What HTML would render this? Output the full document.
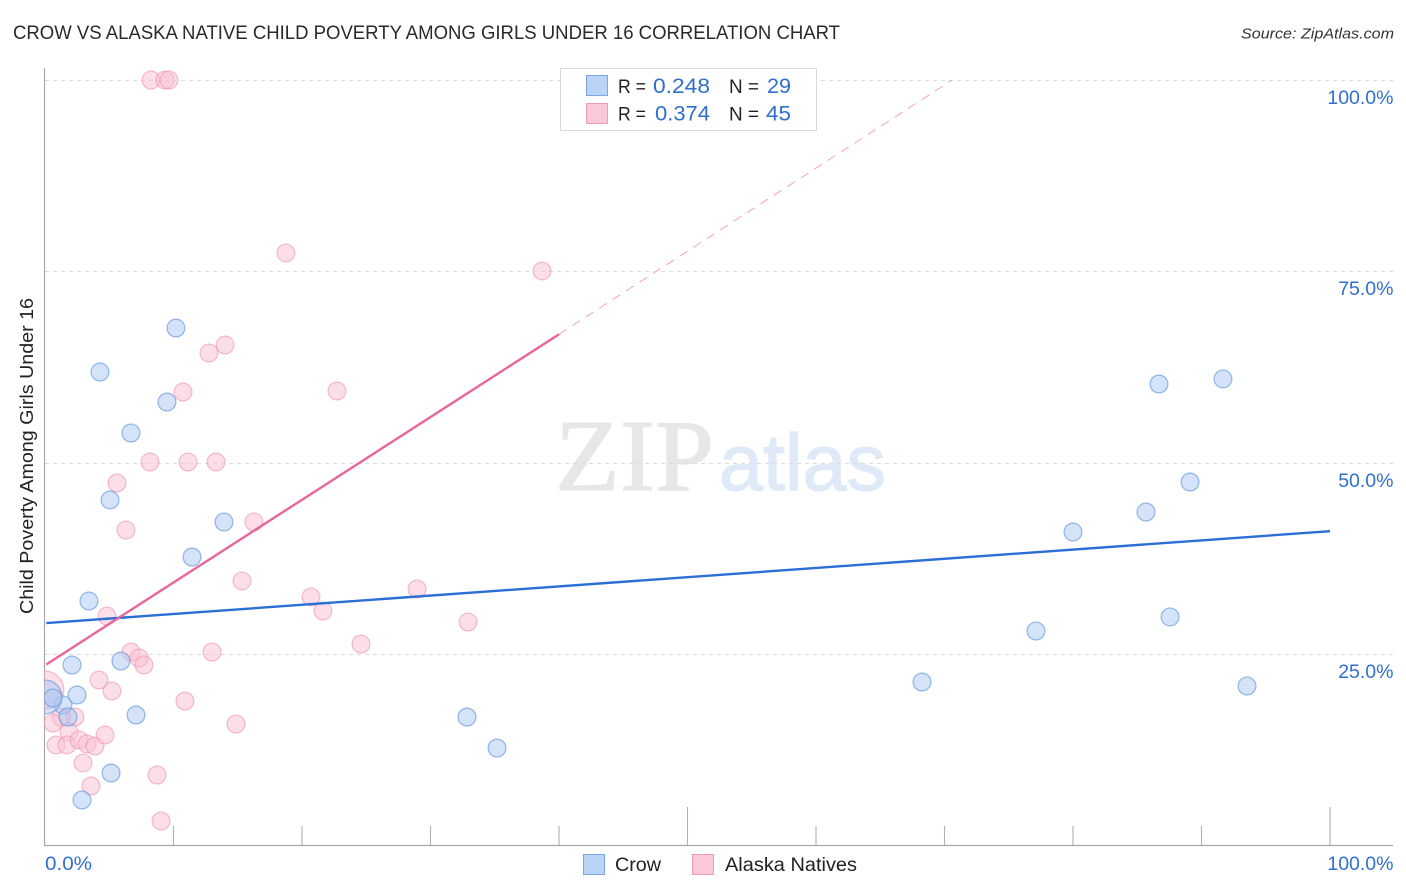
<!DOCTYPE html>
<html lang="en">
<head>
<meta charset="utf-8">
<title>Crow vs Alaska Native Child Poverty Among Girls Under 16 Correlation Chart</title>
<style>
html,body{margin:0;padding:0;background:#fff;}
svg{display:block;font-family:"Liberation Sans",sans-serif;}
</style>
</head>
<body>
<svg id="chart" width="1406" height="892" viewBox="0 0 1406 892" xmlns="http://www.w3.org/2000/svg">
  <defs>
    <clipPath id="plot-clip"><rect x="44.5" y="60" width="1349" height="785"/></clipPath>
  </defs>
  <rect width="1406" height="892" fill="#ffffff"/>
  <text x="13" y="39" font-size="19.5" fill="#2a2a2a" textLength="827" lengthAdjust="spacingAndGlyphs">CROW VS ALASKA NATIVE CHILD POVERTY AMONG GIRLS UNDER 16 CORRELATION CHART</text>
  <text x="1394" y="38.500" font-size="15" font-style="italic" fill="#333" text-anchor="end" textLength="153" lengthAdjust="spacingAndGlyphs">Source: ZipAtlas.com</text>
  <g>
    <text x="555" y="490" font-family="'Liberation Serif',serif" font-size="102" fill="#e7e7e7" stroke="#e7e7e7" stroke-width="1.2" textLength="159" lengthAdjust="spacingAndGlyphs">ZIP</text>
    <text x="719" y="490" font-size="80" fill="#e0e9f8" stroke="#e0e9f8" stroke-width="1.2" textLength="167" lengthAdjust="spacingAndGlyphs">atlas</text>
  </g>
  <g id="grid"></g>
  <g id="axes"></g>
  <g id="points" clip-path="url(#plot-clip)"></g>
  <g id="trends"></g>
  <text transform="translate(33,456) rotate(-90)" font-size="18.500" fill="#222" text-anchor="middle" textLength="316" lengthAdjust="spacingAndGlyphs">Child Poverty Among Girls Under 16</text>
  <g>
    <rect x="560.500" y="68.500" width="256" height="62" fill="#fff" stroke="#d9d9d9"/>
    <rect x="586.500" y="75.500" width="21" height="20" fill="#b9d4f7" stroke="#7aa7e4"/>
    <rect x="586.500" y="103.500" width="21" height="20" fill="#fbc8d9" stroke="#f09ab8"/>
    <text x="618" y="93" font-size="19" fill="#222" textLength="28" lengthAdjust="spacingAndGlyphs">R =</text>
    <text x="653" y="93" font-size="21" fill="#2f6fce" textLength="57" lengthAdjust="spacingAndGlyphs">0.248</text>
    <text x="729" y="93" font-size="19" fill="#222" textLength="30" lengthAdjust="spacingAndGlyphs">N =</text>
    <text x="767" y="93" font-size="21" fill="#2f6fce" textLength="24" lengthAdjust="spacingAndGlyphs">29</text>
    <text x="618" y="120.500" font-size="19" fill="#222" textLength="28" lengthAdjust="spacingAndGlyphs">R =</text>
    <text x="655" y="120.500" font-size="21" fill="#2f6fce" textLength="55" lengthAdjust="spacingAndGlyphs">0.374</text>
    <text x="729" y="120.500" font-size="19" fill="#222" textLength="30" lengthAdjust="spacingAndGlyphs">N =</text>
    <text x="766" y="120.500" font-size="21" fill="#2f6fce" textLength="25" lengthAdjust="spacingAndGlyphs">45</text>
  </g>
  <g>
    <rect x="583.500" y="854.500" width="21" height="20" fill="#b9d4f7" stroke="#7aa7e4"/>
    <text x="615" y="871" font-size="19.500" fill="#222" textLength="46" lengthAdjust="spacingAndGlyphs">Crow</text>
    <rect x="692.500" y="854.500" width="21" height="20" fill="#fbc8d9" stroke="#f09ab8"/>
    <text x="725" y="871" font-size="19.500" fill="#222" textLength="132" lengthAdjust="spacingAndGlyphs">Alaska Natives</text>
  </g>
</svg>
<script>
const crowX = [10.19,4.28,9.49,6.69,5.06,13.93,11.44,3.42,2.10,5.91,2.49,1.40,0,0.62,1.79,7.08,5.14,2.88,32.84,35.18,68.25,77.12,80.0,85.68,86.69,89.11,87.55,91.67,93.54];
const crowY = [67.62,61.88,57.96,53.92,45.17,42.30,37.73,31.98,23.63,24.15,19.71,18.41,19.45,19.32,16.84,17.10,9.53,6.01,16.84,12.79,21.41,28.07,40.99,43.60,60.31,47.52,29.90,60.97,20.89];
const crowWeight = [1,1,1,1,1,1,1,1,1,1,1,1,3.6,1,1,1,1,1,1,1,1,1,1,1,1,1,1,1,1];
const alaskaX = [8.25,9.34,9.65,18.75,38.68,14.01,12.76,10.74,22.72,8.17,11.13,13.31,5.60,6.30,16.26,15.33,20.70,21.63,28.95,32.92,4.82,24.59,6.69,7.32,7.70,13.0,4.20,5.21,10.89,14.86,2.33,1.25,0.62,1.87,0.86,1.71,2.65,3.27,3.89,4.67,2.96,3.58,8.72,9.03,0];
const alaskaY = [100,100,100,77.42,75.07,65.40,64.36,59.27,59.40,50.13,50.13,50.13,47.39,41.25,42.30,34.60,32.51,30.68,33.55,29.24,30.03,26.37,25.33,24.54,23.63,25.33,21.67,20.23,18.93,15.93,16.84,16.84,16.06,14.88,13.19,13.19,13.84,13.32,13.05,14.49,10.84,7.83,9.27,3.26,20.37];
const alaskaWeight = [1,1,1,1,1,1,1,1,1,1,1,1,1,1,1,1,1,1,1,1,1,1,1,1,1,1,1,1,1,1,1,1,1,1,1,1,1,1,1,1,1,1,1,1,4.5];
const crowTrendX = [0.1,100];
const crowTrendY = [29.1,41.1];
const alaskaTrendX = [0.1,40];
const alaskaTrendY = [23.7,66.8];
const alaskaExtendX = [40,70.6];
const alaskaExtendY = [66.8,100];
const yTicks = [100,75,50,25];
const yTickLabels = ['100.0%','75.0%','50.0%','25.0%'];
const xTicks = [10,20,30,40,50,60,70,80,90,100];
const xTickMajor = [50,100];
const xEndLabels = ['0.0%','100.0%'];

const NS = 'http://www.w3.org/2000/svg';
function sx(v){ return 45 + v * 12.85; }
function sy(v){ return 846 - v * 7.66; }
function make(tag, attrs, parent){
  const el = document.createElementNS(NS, tag);
  for (const k in attrs) el.setAttribute(k, attrs[k]);
  parent.appendChild(el);
  return el;
}
const grid = document.getElementById('grid');
const axes = document.getElementById('axes');
const points = document.getElementById('points');
const trends = document.getElementById('trends');

yTicks.forEach(function(v, i){
  const y = Math.floor(sy(v)) + 0.5;
  const line = make('line', {x1:45, x2:1393, y1:y, y2:y, stroke:'#dcdcdc', 'stroke-width':1, 'stroke-dasharray':'4 4'}, grid);
  
  
  const t = make('text', {x:1393.5, y:y + 23.5, 'font-size':19.5, fill:'#2f6fce', 'text-anchor':'end'}, axes);
  t.textContent = yTickLabels[i];
  
  
});

const yAxis = make('line', {x1:44.5, x2:44.5, y1:68, y2:846, stroke:'#a8a8a8', 'stroke-width':1.2}, axes);


const xAxis = make('line', {x1:44, x2:1393, y1:845.5, y2:845.5, stroke:'#a8a8a8', 'stroke-width':1.2}, axes);



xTicks.forEach(function(v){
  const x = sx(v);
  const top = xTickMajor.indexOf(v) >= 0 ? 807 : 826;
  const tick = make('line', {x1:x, x2:x, y1:top, y2:845, stroke:'#b0b0b0', 'stroke-width':1.1}, axes);
  
  
});

const xLabelLeft = make('text', {x:45, y:870, 'font-size':19.5, fill:'#2f6fce', textLength:47, lengthAdjust:'spacingAndGlyphs'}, axes);
xLabelLeft.textContent = xEndLabels[0];


const xLabelRight = make('text', {x:1393.5, y:870, 'font-size':19.5, fill:'#2f6fce', 'text-anchor':'end'}, axes);
xLabelRight.textContent = xEndLabels[1];



function radius(w, base){ return base * Math.sqrt(w); }

alaskaX.forEach(function(v, i){
  const c = make('circle', {cx:sx(v), cy:sy(alaskaY[i]), r:radius(alaskaWeight[i], 8.9), fill:'#f9bdd2', 'fill-opacity':0.5, stroke:'#ee8fb0', 'stroke-opacity':0.6, 'stroke-width':1.2}, points);
  
  
});
crowX.forEach(function(v, i){
  const c = make('circle', {cx:sx(v), cy:sy(crowY[i]), r:radius(crowWeight[i], 8.9), fill:'#a9c8f2', 'fill-opacity':0.5, stroke:'#6f9fe0', 'stroke-opacity':0.75, 'stroke-width':1.2}, points);
  
  
});

const crowLine = make('line', {x1:sx(crowTrendX[0]), y1:sy(crowTrendY[0]), x2:sx(crowTrendX[1]), y2:sy(crowTrendY[1]), stroke:'#2a6fd4', 'stroke-width':2.4}, trends);


const alaskaLine = make('line', {x1:sx(alaskaTrendX[0]), y1:sy(alaskaTrendY[0]), x2:sx(alaskaTrendX[1]), y2:sy(alaskaTrendY[1]), stroke:'#e8679a', 'stroke-width':2.4}, trends);


const alaskaDash = make('line', {x1:sx(alaskaExtendX[0]), y1:sy(alaskaExtendY[0]), x2:sx(alaskaExtendX[1]), y2:sy(alaskaExtendY[1]), stroke:'#f0a5c0', 'stroke-width':1, 'stroke-dasharray':'9 7'}, trends);


</script>
</body>
</html>
